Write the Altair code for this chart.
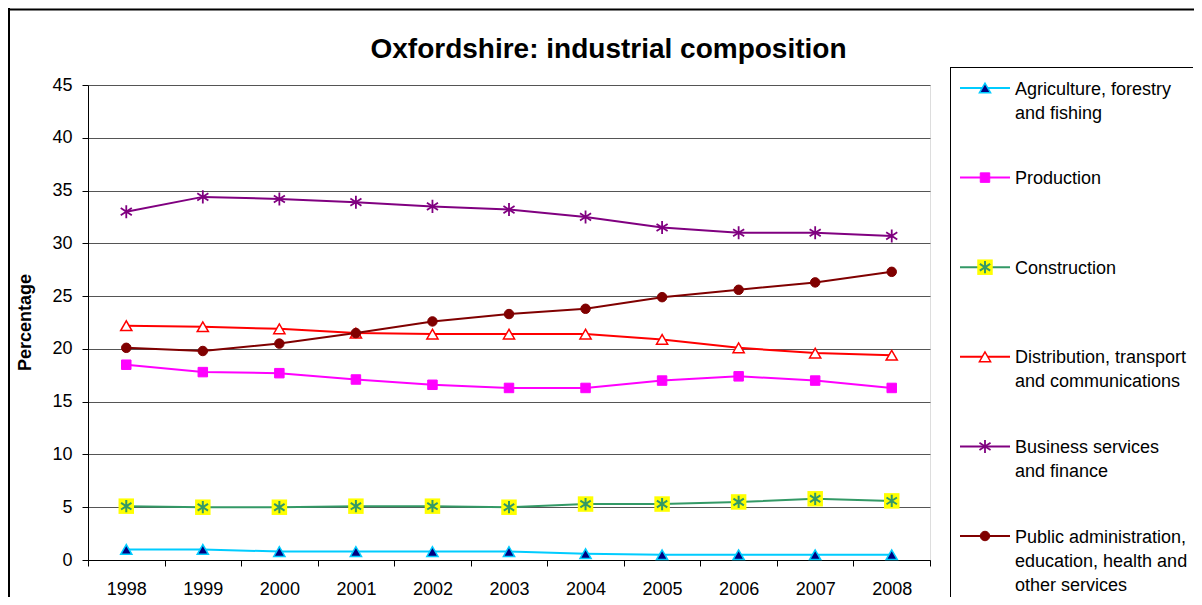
import altair as alt
import pandas as pd

years = [1998, 1999, 2000, 2001, 2002, 2003, 2004, 2005, 2006, 2007, 2008]
series = [
    "Agriculture, forestry and fishing",
    "Production",
    "Construction",
    "Distribution, transport and communications",
    "Business services and finance",
    "Public administration, education, health and other services",
]
legend_labels = [
    "Agriculture, forestry\nand fishing",
    "Production",
    "Construction",
    "Distribution, transport\nand communications",
    "Business services\nand finance",
    "Public administration,\neducation, health and\nother services",
]
agriculture = [1.0, 1.0, 0.8, 0.8, 0.8, 0.8, 0.6, 0.5, 0.5, 0.5, 0.5]
production = [18.5, 17.8, 17.7, 17.1, 16.6, 16.3, 16.3, 17.0, 17.4, 17.0, 16.3]
construction = [5.1, 5.0, 5.0, 5.1, 5.1, 5.0, 5.3, 5.3, 5.5, 5.8, 5.6]
distribution = [22.2, 22.1, 21.9, 21.5, 21.4, 21.4, 21.4, 20.9, 20.1, 19.6, 19.4]
business = [33.0, 34.4, 34.2, 33.9, 33.5, 33.2, 32.5, 31.5, 31.0, 31.0, 30.7]
public = [20.1, 19.8, 20.5, 21.5, 22.6, 23.3, 23.8, 24.9, 25.6, 26.3, 27.3]
y_ticks = [0, 5, 10, 15, 20, 25, 30, 35, 40, 45]
title_text = "Oxfordshire: industrial composition"

ASTERISK = "M0,-1L0,1M-0.85,-0.55L0.85,0.55M-0.85,0.55L0.85,-0.55"
line_colors = ["#00CCFF", "#FF00FF", "#339966", "#FF0000", "#800080", "#800000"]
fill_colors = ["#000080", "#FF00FF", "transparent", "#FFFFFF", "transparent", "#800000"]
shapes = ["triangle-up", "square", ASTERISK, "triangle-up", ASTERISK, "circle"]
sizes = [125, 90, 150, 125, 170, 90]
stroke_widths = [1.5, 1, 2, 1.5, 1.8, 1]

values = [agriculture, production, construction, distribution, business, public]
rows = []
for s, vals in zip(series, values):
    for yr, v in zip(years, vals):
        rows.append({"series": s, "year": yr, "value": v})
df = pd.DataFrame(rows)
leg_df = pd.DataFrame({"series": series, "label": legend_labels})

FONT = "Liberation Sans"

x_enc = alt.X(
    "year:O",
    title=None,
    bandPosition=0.5,
    scale=alt.Scale(type="band", paddingInner=0, paddingOuter=0),
    axis=alt.Axis(
        tickBand="extent", grid=False, labelAngle=0, labelFontSize=18,
        labelColor="black", tickColor="black", tickSize=6, domainColor="black",
        labelPadding=14, labelFont=FONT,
    ),
)
y_enc = alt.Y(
    "value:Q",
    title="Percentage",
    scale=alt.Scale(domain=[0, 45], nice=False),
    axis=alt.Axis(
        values=y_ticks, grid=True, gridColor="#555555", gridWidth=1,
        labelFontSize=18, labelColor="black", labelPadding=10, labelFont=FONT,
        tickColor="black", tickSize=6, domainColor="black",
        titleFontSize=18, titleFontWeight="bold", titleFont=FONT, titleColor="black",
        titleX=-63, titleY=237, titleAlign="center", titleBaseline="middle", titleAngle=-90,
    ),
)

stroke_enc = alt.Stroke("series:N", scale=alt.Scale(domain=series, range=line_colors), legend=None)
fill_enc = alt.Fill("series:N", scale=alt.Scale(domain=series, range=fill_colors), legend=None)
shape_enc = alt.Shape("series:N", scale=alt.Scale(domain=series, range=shapes), legend=None)
size_enc = alt.Size(
    "series:N", scale=alt.Scale(type="ordinal", domain=series, range=sizes), legend=None
)
sw_enc = alt.StrokeWidth(
    "series:N", scale=alt.Scale(type="ordinal", domain=series, range=stroke_widths), legend=None
)

lines = alt.Chart(df).mark_line(strokeWidth=2).encode(x=x_enc, y=y_enc, stroke=stroke_enc)
yellow = alt.Chart(df[df["series"] == "Construction"]).mark_square(
    size=240, color="#FFFF00", opacity=1
).encode(x=x_enc, y=y_enc)
points = alt.Chart(df).mark_point(filled=True, opacity=1).encode(
    x=x_enc, y=y_enc, stroke=stroke_enc, fill=fill_enc, shape=shape_enc,
    size=size_enc, strokeWidth=sw_enc,
)
main = alt.layer(lines, yellow, points)

leg_y = alt.Y(
    "series:N",
    scale=alt.Scale(type="point", domain=series, range=[3, 451], padding=0),
    axis=None,
)
leg_rule = alt.Chart(leg_df).mark_rule(strokeWidth=2).encode(
    x=alt.value(872), x2=alt.value(922), y=leg_y, stroke=stroke_enc
)
leg_yellow = alt.Chart(leg_df[leg_df["series"] == "Construction"]).mark_square(
    size=240, color="#FFFF00", opacity=1
).encode(x=alt.value(897), y=leg_y)
leg_points = alt.Chart(leg_df).mark_point(filled=True, opacity=1).encode(
    x=alt.value(897), y=leg_y, stroke=stroke_enc, fill=fill_enc, shape=shape_enc,
    size=size_enc, strokeWidth=sw_enc,
)
leg_text = alt.Chart(leg_df).mark_text(
    align="left", baseline="alphabetic", dy=6.5, fontSize=18, lineBreak="\n",
    lineHeight=24, font=FONT, color="black",
).encode(x=alt.value(927), y=leg_y, text="label:N")
legend = alt.layer(leg_rule, leg_yellow, leg_points, leg_text)

one = pd.DataFrame({"k": [0]})
frame_top = alt.Chart(one).mark_rule(color="black", strokeWidth=2).encode(
    x=alt.value(-80), x2=alt.value(1106), y=alt.value(-75.5)
)
frame_left = alt.Chart(one).mark_rule(color="black", strokeWidth=2).encode(
    x=alt.value(-79), y=alt.value(-77), y2=alt.value(512)
)
box_top = alt.Chart(one).mark_rule(color="black", strokeWidth=1).encode(
    x=alt.value(862), x2=alt.value(1105), y=alt.value(-17.5)
)
box_left = alt.Chart(one).mark_rule(color="black", strokeWidth=1).encode(
    x=alt.value(862.5), y=alt.value(-18), y2=alt.value(512)
)
title = alt.Chart(one).mark_text(
    text=title_text, fontSize=28, fontWeight="bold", font=FONT, color="black",
    align="center", baseline="alphabetic",
).encode(x=alt.value(520.5), y=alt.value(-26.7))
deco = alt.layer(frame_top, frame_left, box_top, box_left, title)

chart = (
    alt.layer(deco, main, legend)
    .resolve_scale(y="independent")
    .properties(
        width=842,
        height=475,
        padding={"left": 80, "top": 77, "right": 264, "bottom": 37},
        autosize=alt.AutoSizeParams(type="none"),
    )
    .configure_view(stroke="#999999", strokeWidth=1.5)
    .configure(font=FONT, background="white")
)

chart.save("out.html", embed_options={"renderer": "svg", "actions": False})
